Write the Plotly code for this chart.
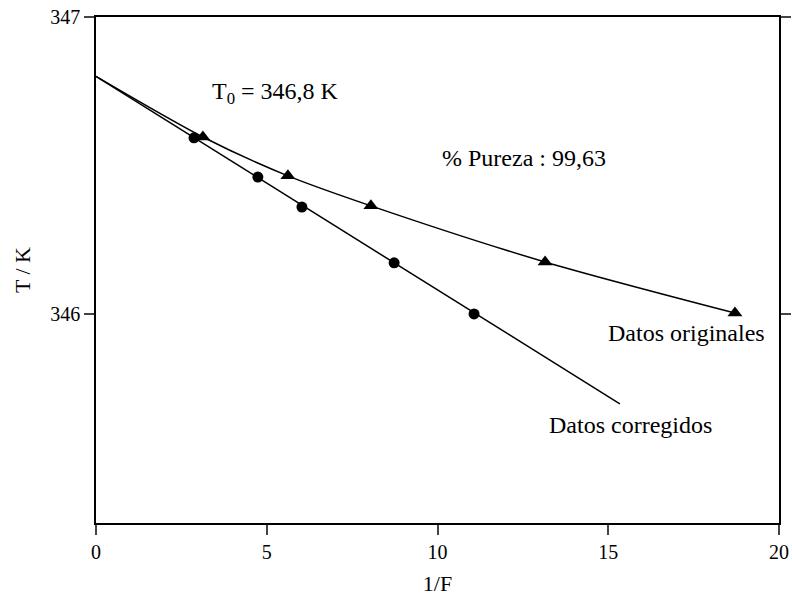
import plotly.graph_objects as go

# Data
corr_x = [2.87, 4.74, 6.03, 8.73, 11.07]
corr_y = [346.593, 346.461, 346.360, 346.172, 346.0]
fit_x = [0.0, 15.34]
fit_y = [346.8, 345.697]

orig_x = [3.13, 5.62, 8.05, 13.15, 18.71]
orig_y = [346.596, 346.465, 346.364, 346.175, 346.003]
curve_x = [0.0, 3.13, 5.62, 8.05, 13.15, 18.71]
curve_y = [346.8, 346.596, 346.465, 346.364, 346.175, 346.003]

x_ticks = [0, 5, 10, 15, 20]
y_ticks = [346, 347]

FONT = "Liberation Serif"
ANN = 24

fig = go.Figure()
fig.add_trace(go.Scatter(x=fit_x, y=fit_y, mode="lines",
                         line=dict(color="black", width=1.5), showlegend=False))
fig.add_trace(go.Scatter(x=curve_x, y=curve_y, mode="lines",
                         line=dict(color="black", width=1.5, shape="spline", smoothing=0.8),
                         showlegend=False))
fig.add_trace(go.Scatter(x=corr_x, y=corr_y, mode="markers",
                         marker=dict(symbol="circle", size=11, color="black"), showlegend=False))
fig.add_trace(go.Scatter(x=orig_x, y=orig_y, mode="markers",
                         marker=dict(symbol="triangle-up", size=13, color="black"), showlegend=False))

fig.add_annotation(x=3.33, y=346.745, text="T<sub>0</sub> = 346,8 K", showarrow=False,
                   xanchor="left", yanchor="middle", font=dict(family=FONT, size=ANN, color="black"))
fig.add_annotation(x=10.07, y=346.525, text="% Pureza : 99,63", showarrow=False,
                   xanchor="left", yanchor="middle", font=dict(family=FONT, size=ANN, color="black"))
fig.add_annotation(x=14.93, y=345.935, text="Datos originales", showarrow=False,
                   xanchor="left", yanchor="middle", font=dict(family=FONT, size=ANN, color="black"))
fig.add_annotation(x=13.21, y=345.625, text="Datos corregidos", showarrow=False,
                   xanchor="left", yanchor="middle", font=dict(family=FONT, size=ANN, color="black"))

fig.update_layout(
    width=792, height=598,
    margin=dict(l=96, r=13, t=17, b=75, autoexpand=False),
    paper_bgcolor="white", plot_bgcolor="white",
    font=dict(family=FONT, size=20, color="black"),
    xaxis=dict(range=[0, 20], tickvals=x_ticks, ticks="outside", ticklen=10, tickwidth=1.5,
               showline=True, linewidth=1.5, linecolor="black", mirror=True,
               showgrid=False, zeroline=False, automargin=False,
               title=dict(text="1/F", font=dict(family=FONT, size=22), standoff=14)),
    yaxis=dict(range=[345.296, 347], tickvals=y_ticks, ticks="outside", ticklen=10, tickwidth=1.5,
               showline=True, linewidth=1.5, linecolor="black", mirror="ticks",
               showgrid=False, zeroline=False, automargin=False,
               title=dict(text="T / K", font=dict(family=FONT, size=22), standoff=14)),
)

fig.write_html("out.html")
